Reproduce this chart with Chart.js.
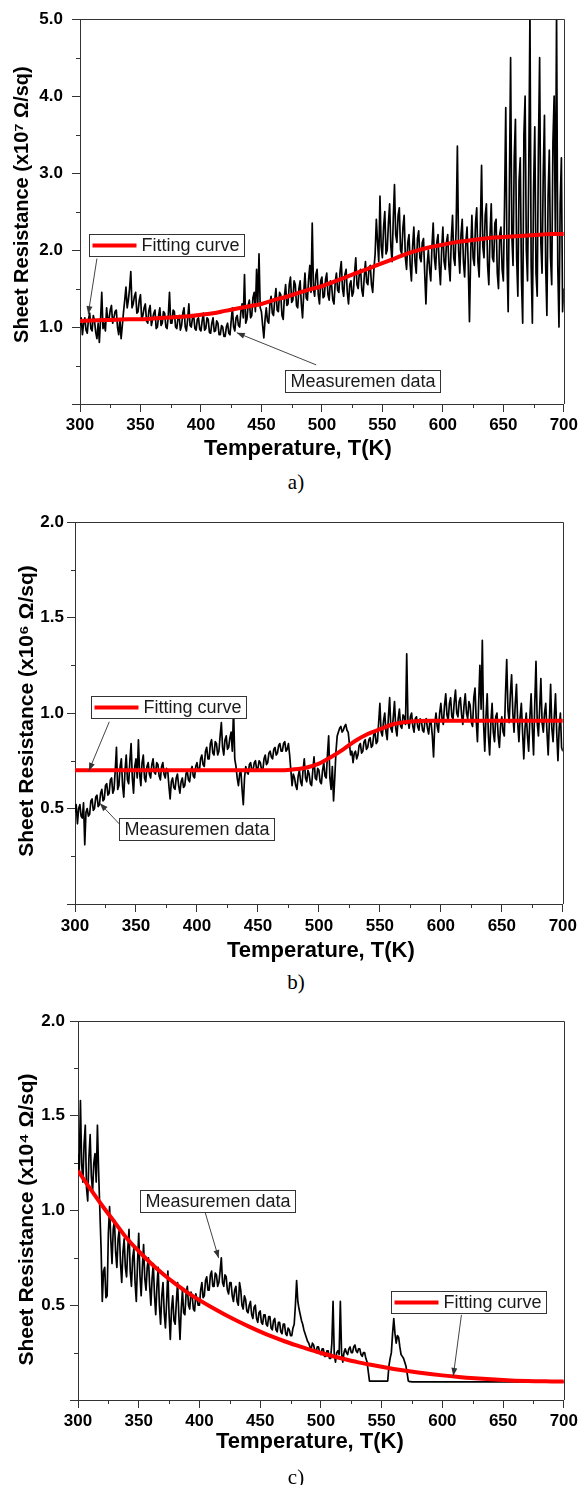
<!DOCTYPE html>
<html><head><meta charset="utf-8">
<script src="https://cdn.jsdelivr.net/npm/chart.js@4.4.0/dist/chart.umd.min.js"></script>
<style>
html,body{margin:0;padding:0;background:#fff;}
body{width:581px;height:1485px;position:relative;overflow:hidden;}
.panel{position:absolute;left:0;width:581px;height:470px;}
canvas{display:block;}
.cap{position:absolute;font-family:'Liberation Serif','Times New Roman',serif;font-size:21px;color:#000;width:60px;text-align:center;line-height:22px;z-index:2;}
</style></head><body>
<div class="panel" style="top:0"><canvas id="ca" width="581" height="470"></canvas></div>
<div class="panel" style="top:500px"><canvas id="cb" width="581" height="470"></canvas></div>
<div class="panel" style="top:1000px"><canvas id="cc" width="581" height="470"></canvas></div>
<div class="cap" style="left:266px;top:471px">a)</div>
<div class="cap" style="left:266px;top:971px">b)</div>
<div class="cap" style="left:266px;top:1466px">c)</div>
<script>
// ---------- data ----------
const temperature = [
300,301,302,303,304,305,306,307,308,309,310,311,312,313,314,315,316,317,318,319,
320,321,322,323,324,325,326,327,328,329,330,331,332,333,334,335,336,337,338,339,
340,341,342,343,344,345,346,347,348,349,350,351,352,353,354,355,356,357,358,359,
360,361,362,363,364,365,366,367,368,369,370,371,372,373,374,375,376,377,378,379,
380,381,382,383,384,385,386,387,388,389,390,391,392,393,394,395,396,397,398,399,
400,401,402,403,404,405,406,407,408,409,410,411,412,413,414,415,416,417,418,419,
420,421,422,423,424,425,426,427,428,429,430,431,432,433,434,435,436,437,438,439,
440,441,442,443,444,445,446,447,448,449,450,451,452,453,454,455,456,457,458,459,
460,461,462,463,464,465,466,467,468,469,470,471,472,473,474,475,476,477,478,479,
480,481,482,483,484,485,486,487,488,489,490,491,492,493,494,495,496,497,498,499,
500,501,502,503,504,505,506,507,508,509,510,511,512,513,514,515,516,517,518,519,
520,521,522,523,524,525,526,527,528,529,530,531,532,533,534,535,536,537,538,539,
540,541,542,543,544,545,546,547,548,549,550,551,552,553,554,555,556,557,558,559,
560,561,562,563,564,565,566,567,568,569,570,571,572,573,574,575,576,577,578,579,
580,581,582,583,584,585,586,587,588,589,590,591,592,593,594,595,596,597,598,599,
600,601,602,603,604,605,606,607,608,609,610,611,612,613,614,615,616,617,618,619,
620,621,622,623,624,625,626,627,628,629,630,631,632,633,634,635,636,637,638,639,
640,641,642,643,644,645,646,647,648,649,650,651,652,653,654,655,656,657,658,659,
660,661,662,663,664,665,666,667,668,669,670,671,672,673,674,675,676,677,678,679,
680,681,682,683,684,685,686,687,688,689,690,691,692,693,694,695,696,697,698,699,700];

const fitTemperature = [300,310,320,330,340,350,360,370,380,390,400,410,420,430,440,450,460,470,480,490,
500,510,520,530,540,550,560,570,580,590,600,610,620,630,640,650,660,670,680,690,700];

// (a) sheet resistance, x10^7 ohm/sq
const measuredA = [
1.02,1.12,0.90,1.05,1.12,0.96,0.92,1.10,1.18,0.98,0.95,1.15,1.08,0.93,0.85,1.05,0.80,1.10,1.45,0.98,
1.05,0.95,1.25,1.08,1.10,1.22,1.28,1.05,1.12,1.20,1.22,1.00,0.90,1.10,0.85,1.02,1.20,1.35,1.52,1.25,
1.35,1.50,1.72,1.25,1.30,1.40,1.45,1.18,1.20,1.35,1.42,1.10,1.15,1.25,1.30,1.08,1.05,1.22,1.28,1.02,
1.10,1.18,1.22,0.98,1.00,1.15,1.25,1.02,1.05,1.20,1.18,1.00,0.98,1.15,1.45,1.05,1.05,1.22,1.20,1.00,
0.98,1.12,1.15,0.96,1.02,1.18,1.25,1.00,0.95,1.10,1.30,1.02,1.00,1.12,1.15,0.98,0.96,1.10,1.12,0.97,
0.95,1.08,1.18,0.96,0.98,1.12,1.10,0.93,0.92,1.05,1.12,0.94,0.95,1.08,1.05,0.90,0.90,1.02,1.00,0.88,
0.88,1.00,1.05,0.92,0.90,1.08,1.25,1.00,0.95,1.12,1.15,1.02,1.00,1.20,1.30,1.12,1.68,1.05,1.10,1.28,
1.35,1.12,1.15,1.38,1.45,1.20,1.75,1.30,1.95,1.25,1.20,1.02,0.86,1.10,1.25,1.08,1.05,1.30,1.40,1.18,
1.15,1.35,1.50,1.22,1.20,1.45,1.42,1.15,1.10,1.40,1.55,1.28,1.30,1.55,1.65,1.32,1.35,1.60,1.55,1.28,
1.25,1.50,1.60,1.30,1.12,1.45,1.70,1.38,1.35,1.62,1.80,1.45,2.35,1.50,1.40,1.68,1.75,1.42,1.30,1.60,
1.65,1.38,1.40,1.62,1.70,1.42,1.35,1.60,1.55,1.35,1.30,1.58,1.70,1.48,1.45,1.72,1.85,1.50,1.40,1.68,
1.75,1.45,1.30,1.55,1.60,1.40,1.45,1.70,1.90,1.55,1.50,1.72,1.75,1.48,1.40,1.65,1.85,1.58,1.55,1.78,
1.80,1.55,1.45,1.75,1.95,2.40,2.10,1.85,2.70,2.05,1.90,2.30,2.50,1.95,2.00,2.35,2.60,2.05,1.85,2.40,
2.85,2.20,2.10,2.45,2.55,2.00,1.95,2.30,2.45,1.90,1.75,2.10,2.20,1.80,1.60,2.05,2.30,1.85,1.70,2.15,
2.25,1.90,1.85,2.10,2.15,1.70,1.30,1.80,2.00,1.75,1.60,2.05,2.35,1.90,1.75,2.10,2.20,1.80,1.55,2.00,
2.30,1.85,1.75,2.10,2.20,1.80,1.60,2.15,2.45,1.90,1.80,2.30,3.35,2.00,1.70,2.20,2.40,1.85,1.65,2.10,
2.30,1.80,1.07,1.95,2.45,1.90,1.80,2.35,2.55,1.85,1.65,2.30,3.10,2.05,1.90,2.45,2.60,1.80,1.55,2.20,
2.60,1.90,1.85,2.35,2.40,1.70,1.50,2.20,2.30,1.75,1.60,2.60,3.85,1.90,1.20,2.80,4.50,2.20,1.80,3.20,
3.70,1.90,1.40,2.90,3.20,1.60,1.05,3.50,4.00,2.00,1.60,3.00,5.10,1.80,1.05,2.80,3.60,1.70,1.40,3.30,
4.50,2.10,1.70,3.00,3.75,1.80,1.15,2.70,3.30,1.90,1.55,3.40,4.00,2.20,5.10,1.80,1.00,2.60,3.20,1.20,1.50];
const fittingA = [1.08,1.085,1.09,1.095,1.10,1.10,1.11,1.12,1.13,1.14,1.16,1.18,1.21,1.24,1.27,1.30,1.35,1.39,1.44,1.49,
1.53,1.59,1.65,1.71,1.77,1.83,1.89,1.95,2.00,2.04,2.07,2.10,2.12,2.14,2.16,2.17,2.18,2.19,2.20,2.21,2.21];

// (b) sheet resistance, x10^6 ohm/sq
const measuredB = [
0.48,0.52,0.42,0.50,0.52,0.46,0.45,0.53,0.31,0.48,0.50,0.46,0.47,0.54,0.55,0.49,0.50,0.56,0.57,0.51,
0.52,0.58,0.60,0.54,0.55,0.62,0.63,0.57,0.58,0.65,0.66,0.58,0.60,0.70,0.82,0.60,0.62,0.72,0.76,0.62,
0.56,0.70,0.78,0.65,0.63,0.75,0.84,0.66,0.58,0.72,0.76,0.66,0.86,0.68,0.62,0.74,0.78,0.66,0.64,0.72,
0.74,0.68,0.66,0.73,0.76,0.69,0.68,0.74,0.73,0.67,0.65,0.72,0.74,0.68,0.66,0.71,0.70,0.62,0.55,0.64,
0.66,0.61,0.60,0.66,0.68,0.62,0.58,0.64,0.66,0.61,0.62,0.68,0.70,0.65,0.64,0.70,0.72,0.67,0.66,0.72,
0.74,0.70,0.70,0.76,0.78,0.73,0.72,0.80,0.82,0.76,0.76,0.84,0.86,0.79,0.78,0.85,0.84,0.78,0.80,0.88,
0.95,0.82,0.78,0.86,0.88,0.81,0.82,0.87,0.90,0.80,1.02,0.76,0.72,0.66,0.62,0.68,0.70,0.60,0.52,0.66,
0.72,0.69,0.68,0.73,0.74,0.70,0.70,0.74,0.75,0.70,0.71,0.75,0.74,0.70,0.70,0.76,0.78,0.73,0.74,0.79,
0.80,0.77,0.76,0.81,0.82,0.78,0.79,0.83,0.84,0.80,0.80,0.84,0.85,0.80,0.81,0.84,0.78,0.70,0.62,0.68,
0.66,0.62,0.60,0.67,0.70,0.64,0.62,0.70,0.76,0.66,0.64,0.70,0.68,0.63,0.62,0.70,0.77,0.66,0.65,0.71,
0.70,0.64,0.63,0.70,0.74,0.67,0.66,0.78,0.88,0.66,0.60,0.72,0.54,0.66,0.80,0.88,0.90,0.92,0.93,0.90,
0.91,0.93,0.94,0.91,0.90,0.84,0.78,0.80,0.74,0.79,0.80,0.76,0.78,0.83,0.84,0.79,0.80,0.85,0.86,0.81,
0.82,0.86,0.87,0.82,0.83,0.89,0.90,0.84,0.85,0.95,1.05,0.90,0.88,0.96,1.00,0.90,0.86,0.98,1.08,0.92,
0.90,0.98,1.06,0.92,0.88,0.97,1.02,0.93,0.92,0.99,0.98,0.94,1.31,0.96,0.92,0.98,1.00,0.93,0.90,0.97,
0.98,0.93,0.91,0.97,0.96,0.91,0.90,0.96,0.97,0.92,0.89,0.96,0.95,0.88,0.77,0.94,1.00,0.93,0.90,1.00,
1.05,0.97,0.94,1.04,1.10,0.99,0.96,1.05,1.08,0.98,0.97,1.06,1.12,1.00,0.98,1.06,1.08,0.99,0.94,1.04,
1.10,1.00,0.97,1.06,1.04,0.95,0.93,1.08,1.13,0.96,0.85,1.05,1.25,1.02,1.38,0.95,0.80,0.98,1.10,0.88,
0.78,0.95,1.05,0.90,0.85,0.98,1.00,0.88,0.82,0.94,0.98,0.90,0.88,1.10,1.28,1.02,0.95,1.10,1.20,1.00,
0.90,1.05,1.15,0.95,0.85,0.98,1.05,0.90,0.76,0.92,1.00,0.88,0.80,0.98,1.10,0.92,0.78,1.05,1.27,0.95,
0.88,1.02,1.18,0.95,0.90,1.00,1.05,0.90,0.78,0.96,1.15,0.92,0.85,0.98,1.10,0.90,0.75,0.92,1.00,0.82,0.80];
const fittingB = [0.70,0.70,0.70,0.70,0.70,0.70,0.70,0.70,0.70,0.70,0.70,0.70,0.70,0.70,0.70,0.70,0.70,0.70,0.705,0.715,
0.735,0.77,0.81,0.855,0.89,0.915,0.94,0.952,0.957,0.96,0.96,0.96,0.96,0.96,0.96,0.96,0.96,0.96,0.96,0.96,0.96];

// (c) sheet resistance, x10^4 ohm/sq
const measuredC = [
1.30,1.20,1.58,1.25,1.15,1.35,1.45,1.12,1.05,1.28,1.40,1.18,1.10,1.25,1.30,1.15,1.45,1.20,1.00,0.80,
0.52,0.68,0.70,0.54,0.55,0.88,1.02,0.85,0.72,0.90,0.95,0.78,0.70,0.85,0.90,0.72,0.62,0.78,0.85,0.70,
0.65,0.80,0.90,0.68,0.60,0.75,0.80,0.62,0.52,0.72,0.88,0.66,0.55,0.70,0.82,0.64,0.58,0.70,0.75,0.60,
0.50,0.64,0.72,0.55,0.45,0.60,0.70,0.50,0.40,0.55,0.62,0.46,0.38,0.52,0.68,0.45,0.32,0.48,0.55,0.42,
0.40,0.52,0.62,0.45,0.32,0.48,0.58,0.46,0.45,0.56,0.60,0.50,0.48,0.57,0.55,0.48,0.47,0.56,0.53,0.50,
0.50,0.58,0.62,0.54,0.55,0.63,0.65,0.58,0.58,0.66,0.68,0.60,0.60,0.67,0.66,0.60,0.62,0.68,0.75,0.62,
0.60,0.66,0.65,0.58,0.56,0.62,0.62,0.55,0.52,0.58,0.60,0.52,0.50,0.62,0.58,0.50,0.48,0.55,0.53,0.47,
0.46,0.50,0.52,0.45,0.43,0.49,0.50,0.43,0.41,0.46,0.47,0.41,0.40,0.45,0.45,0.40,0.39,0.44,0.44,0.38,
0.37,0.42,0.43,0.37,0.36,0.41,0.41,0.36,0.35,0.40,0.40,0.35,0.34,0.38,0.37,0.34,0.34,0.38,0.40,0.50,
0.63,0.52,0.48,0.45,0.42,0.40,0.37,0.35,0.33,0.31,0.30,0.28,0.27,0.30,0.29,0.26,0.25,0.28,0.28,0.25,
0.24,0.27,0.27,0.23,0.23,0.26,0.26,0.22,0.22,0.30,0.52,0.24,0.20,0.25,0.26,0.24,0.52,0.25,0.20,0.25,
0.27,0.25,0.24,0.27,0.28,0.25,0.25,0.28,0.29,0.26,0.25,0.27,0.27,0.24,0.23,0.25,0.25,0.22,0.20,0.15,
0.10,0.10,0.10,0.10,0.10,0.10,0.10,0.10,0.10,0.10,0.10,0.10,0.10,0.10,0.10,0.10,0.18,0.22,0.25,0.35,
0.43,0.35,0.30,0.34,0.33,0.28,0.24,0.23,0.22,0.20,0.18,0.14,0.10,0.097,0.097,0.096,0.096,0.096,0.096,0.096,
0.096,0.096,0.096,0.096,0.096,0.096,0.096,0.096,0.096,0.096,0.096,0.096,0.096,0.096,0.096,0.096,0.096,0.096,0.096,0.096,
0.096,0.096,0.096,0.096,0.096,0.096,0.096,0.096,0.096,0.096,0.096,0.096,0.096,0.096,0.096,0.096,0.096,0.096,0.096,0.096,
0.096,0.096,0.096,0.096,0.096,0.096,0.096,0.096,0.096,0.096,0.096,0.096,0.096,0.096,0.096,0.096,0.096,0.096,0.096,0.096,
0.096,0.096,0.096,0.096,0.096,0.096,0.096,0.096,0.096,0.096,0.096,0.096,0.096,0.096,0.096,0.096,0.096,0.096,0.096,0.096,
0.096,0.096,0.096,0.096,0.096,0.096,0.096,0.096,0.096,0.096,0.096,0.096,0.096,0.096,0.096,0.096,0.096,0.096,0.096,0.096,
0.096,0.096,0.096,0.096,0.096,0.096,0.096,0.096,0.096,0.096,0.096,0.096,0.096,0.096,0.096,0.096,0.096,0.096,0.096,0.096,0.096];
const fittingC = [1.21,1.115,1.025,0.94,0.855,0.785,0.722,0.665,0.614,0.568,0.527,0.489,0.454,0.421,0.39,0.361,0.334,0.310,0.288,0.267,
0.248,0.231,0.215,0.200,0.187,0.175,0.164,0.154,0.145,0.137,0.130,0.124,0.118,0.113,0.109,0.105,0.102,0.100,0.099,0.098,0.097];

const xTitle = 'Temperature, T(K)';
const yTitles = ['Sheet Resistance (x10\u2077 \u03A9/sq)', 'Sheet Resistance (x10\u2076 \u03A9/sq)', 'Sheet Resistance (x10\u2074 \u03A9/sq)'];
const fitLabel = 'Fitting curve';
const dataLabel = 'Measuremen data';

// ---------- plugins ----------
const FONT = "'Liberation Sans', Arial, Helvetica, sans-serif";
Chart.defaults.font.family = FONT;
Chart.defaults.color = '#000';

const frameTicks = {
  id: 'frameTicks',
  afterDraw(chart, args, o) {
    const ctx = chart.ctx, a = chart.chartArea, xs = chart.scales.x, ys = chart.scales.y;
    ctx.save();
    ctx.strokeStyle = '#333'; ctx.lineWidth = 1;
    ctx.beginPath();
    const t = Math.round(a.top) + 0.5, r = Math.round(a.right) + 0.5;
    ctx.moveTo(a.left, t); ctx.lineTo(r, t);
    ctx.moveTo(r, t); ctx.lineTo(r, a.bottom);
    for (let v = xs.min + o.xMinor; v < xs.max; v += 2 * o.xMinor) {
      const px = Math.round(xs.getPixelForValue(v)) + 0.5;
      ctx.moveTo(px, a.bottom); ctx.lineTo(px, a.bottom + o.minorLen);
    }
    for (let v = ys.min + o.yMinor; v < ys.max; v += 2 * o.yMinor) {
      const py = Math.round(ys.getPixelForValue(v)) + 0.5;
      ctx.moveTo(a.left - o.minorLen, py); ctx.lineTo(a.left, py);
    }
    ctx.stroke();
    ctx.fillStyle = '#000'; ctx.textAlign = 'center'; ctx.textBaseline = 'middle';
    ctx.font = 'bold ' + o.xSize + 'px ' + FONT;
    ctx.fillText(o.xText, (a.left + a.right) / 2 + o.xDx, o.xY);
    ctx.translate(o.yX, (a.top + a.bottom) / 2 + o.yDy);
    ctx.rotate(-Math.PI / 2);
    ctx.font = 'bold ' + o.ySize + 'px ' + FONT;
    ctx.fillText(o.yText, 0, 0);
    ctx.restore();
  }
};

const callouts = {
  id: 'callouts',
  afterDatasetsDraw(chart, args, o) {
    const ctx = chart.ctx, xs = chart.scales.x, ys = chart.scales.y;
    ctx.save();
    ctx.font = '18px ' + FONT;
    for (const c of o.items) {
      const x1 = xs.getPixelForValue(c.from[0]), y1 = ys.getPixelForValue(c.from[1]);
      const x2 = xs.getPixelForValue(c.to[0]), y2 = ys.getPixelForValue(c.to[1]);
      ctx.strokeStyle = '#444'; ctx.fillStyle = '#333'; ctx.lineWidth = 1;
      ctx.beginPath(); ctx.moveTo(x1, y1); ctx.lineTo(x2, y2); ctx.stroke();
      const ang = Math.atan2(y2 - y1, x2 - x1), L = 8, W = 3;
      ctx.beginPath();
      ctx.moveTo(x2, y2);
      ctx.lineTo(x2 - L * Math.cos(ang) + W * Math.sin(ang), y2 - L * Math.sin(ang) - W * Math.cos(ang));
      ctx.lineTo(x2 - L * Math.cos(ang) - W * Math.sin(ang), y2 - L * Math.sin(ang) + W * Math.cos(ang));
      ctx.closePath(); ctx.fill();
      const tw = ctx.measureText(c.text).width;
      const lead = c.sample ? 52 : 5;
      const w = Math.round(lead + tw + 5), h = 22;
      const left = Math.round(xs.getPixelForValue(c.box[0])) + 0.5;
      const top = Math.round(ys.getPixelForValue(c.box[1]) - h / 2) + 0.5;
      ctx.fillStyle = '#fff'; ctx.fillRect(left, top, w, h);
      ctx.strokeStyle = '#333'; ctx.lineWidth = 1; ctx.strokeRect(left, top, w, h);
      if (c.sample) {
        ctx.strokeStyle = '#ff0000'; ctx.lineWidth = 4;
        ctx.beginPath(); ctx.moveTo(left + 3, top + h / 2); ctx.lineTo(left + 47, top + h / 2); ctx.stroke();
      }
      ctx.fillStyle = '#1a1a1a'; ctx.textBaseline = 'middle'; ctx.textAlign = 'left';
      ctx.fillText(c.text, left + lead, top + h / 2 + 1);
    }
    ctx.restore();
  }
};

function makeChart(id, cfg) {
  const measured = temperature.map((t, i) => ({x: t, y: cfg.measured[i]}));
  const fitted = fitTemperature.map((t, i) => ({x: t, y: cfg.fitted[i]}));
  return new Chart(document.getElementById(id), {
    type: 'line',
    data: {
      datasets: [
        {label: fitLabel, data: fitted, borderColor: '#ff0000', borderWidth: 4, pointRadius: 0, cubicInterpolationMode: 'monotone', fill: false},
        {label: dataLabel, data: measured, borderColor: '#000', borderWidth: 1.7, pointRadius: 0, tension: 0, fill: false, borderJoinStyle: 'round'}
      ]
    },
    options: {
      responsive: false, animation: false, devicePixelRatio: 1,
      events: [],
      layout: {padding: {top: cfg.top, right: cfg.right, left: 0, bottom: 0}},
      plugins: {
        legend: {display: false}, tooltip: {enabled: false},
        frameTicks: {xMinor: 25, yMinor: cfg.yStep / 2, minorLen: 4,
                     xText: xTitle, xSize: 22, xDx: cfg.xDx, xY: cfg.xY,
                     yText: cfg.yTitle, ySize: cfg.ySize, yX: cfg.yX, yDy: cfg.yDy},
        callouts: {items: cfg.callouts}
      },
      scales: {
        x: {
          type: 'linear', min: 300, max: 700,
          afterFit: s => { s.height = cfg.xHeight; },
          ticks: {stepSize: 50, padding: cfg.xPad, font: {size: 17, weight: 'bold'}, color: '#000', maxRotation: 0,
                  callback: v => String(v)},
          grid: {display: true, drawOnChartArea: false, drawTicks: true, tickLength: 8, color: '#333'},
          border: {display: true, color: '#333', width: 1},
          title: {display: false}
        },
        y: {
          type: 'linear', min: 0, max: cfg.yMax,
          afterFit: s => { s.width = cfg.yWidth; },
          ticks: {stepSize: cfg.yStep, padding: cfg.yPad, font: {size: 17, weight: 'bold'}, color: '#000',
                  callback: v => (v === 0 ? '' : Number(v).toFixed(1))},
          grid: {display: true, drawOnChartArea: false, drawTicks: true, tickLength: 8, color: '#333'},
          border: {display: true, color: '#333', width: 1},
          title: {display: false}
        }
      }
    },
    plugins: [frameTicks, callouts]
  });
}

makeChart('ca', {
  measured: measuredA, fitted: fittingA, yMax: 5, yStep: 1, yTitle: yTitles[0],
  top: 10, right: 16, xHeight: 66, yWidth: 80, xPad: 3, yPad: 9,
  xDx: -24, xY: 449, ySize: 20, yX: 22.5, yDy: -7,
  callouts: [
    {text: fitLabel, sample: true, box: [307.7, 2.062], from: [314, 1.89], to: [306.8, 1.167]},
    {text: dataLabel, sample: false, box: [469.3, 0.305], from: [495.3, 0.508], to: [429.6, 0.926]}
  ]
});
makeChart('cb', {
  measured: measuredB, fitted: fittingB, yMax: 2, yStep: 0.5, yTitle: yTitles[1],
  top: 22, right: 17, xHeight: 66, yWidth: 75, xPad: 4, yPad: 3,
  xDx: 2, xY: 451, ySize: 21, yX: 27.5, yDy: -2,
  callouts: [
    {text: fitLabel, sample: true, box: [312.9, 1.031], from: [328.1, 0.954], to: [311.4, 0.698]},
    {text: dataLabel, sample: false, box: [335.7, 0.393], from: [337.1, 0.414], to: [320.4, 0.527]}
  ]
});
makeChart('cc', {
  measured: measuredC, fitted: fittingC, yMax: 2, yStep: 0.5, yTitle: yTitles[2],
  top: 21, right: 15, xHeight: 70, yWidth: 78, xPad: 3, yPad: 5,
  xDx: -11, xY: 442, ySize: 21, yX: 27.5, yDy: 9,
  callouts: [
    {text: dataLabel, sample: false, box: [350.8, 1.051], from: [404.6, 0.992], to: [415.8, 0.749]},
    {text: fitLabel, sample: true, box: [557.4, 0.515], from: [615.7, 0.449], to: [609, 0.127]}
  ]
});
</script>
</body></html>
